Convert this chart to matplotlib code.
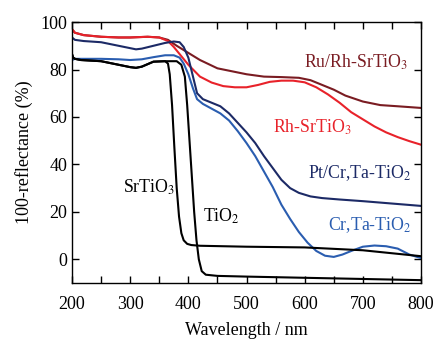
import matplotlib
matplotlib.use('Agg')
import matplotlib.pyplot as plt
from matplotlib.ticker import MultipleLocator

plt.rcParams['font.family'] = ['Liberation Serif', 'DejaVu Serif']
plt.rcParams['mathtext.fontset'] = 'stix'

# Ru/Rh-SrTiO3
ru_x = [200, 205, 220, 250, 280, 300, 330, 350, 365, 380, 400, 420, 450, 480, 500, 530,
        560, 590, 610, 630, 650, 670, 700, 730, 760, 800]
ru_y = [97, 95.5, 94.5, 93.8, 93.5, 93.5, 93.8, 93.5, 92.5, 90, 87, 84, 80.5, 79, 78, 77,
        76.8, 76.5, 75.5, 73.5, 71.5, 69, 66.5, 65, 64.5, 63.8]

# Rh-SrTiO3
rh_x = [200, 205, 220, 250, 280, 300, 330, 350, 365, 375, 390, 400, 420, 440, 460, 480,
        500, 520, 540, 560, 580, 600, 620, 640, 660, 680, 700, 720, 740, 760, 780, 800]
rh_y = [97, 95.5, 94.5, 93.8, 93.5, 93.5, 93.8, 93.5, 92, 89.5, 85, 82, 77, 74.5, 73, 72.5,
        72.5, 73.5, 74.8, 75.3, 75.3, 74.6, 72.5, 69.5, 66, 62, 59, 56, 53.5, 51.5, 49.8, 48.3]

# Pt/Cr,Ta-TiO2
pt_x = [200, 205, 220, 250, 280, 300, 310, 320, 340, 360, 375, 385, 392, 400, 408, 415,
        425, 440, 455, 470, 485, 500, 515, 530, 545, 560, 575, 590, 610, 630, 660, 700,
        750, 800]
pt_y = [93.5, 92.5, 92, 91.5, 90, 89, 88.5, 88.8, 90, 91.2, 91.8, 91.5, 89.5, 85, 77, 70,
        67.5, 66, 64.5, 61.5, 57.5, 53.5, 49, 43.5, 38.5, 33.5, 30, 28, 26.5, 25.8, 25.2, 24.5,
        23.5, 22.5]

# Cr,Ta-TiO2
cr_x = [200, 205, 220, 250, 280, 300, 320, 340, 360, 375, 385, 392, 400, 408, 415, 425,
        440, 455, 470, 485, 500, 515, 530, 545, 560, 575, 590, 605, 620, 635, 650, 665,
        680, 700, 720, 740, 760, 780, 800]
cr_y = [84, 84.5, 84.5, 84.5, 84.3, 84, 84.3, 85.2, 86, 86, 85, 82.5, 78, 72, 67.5, 65.5,
        63.5, 61.5, 58.5, 54, 49, 43.5, 37, 30.5, 23, 17, 11.5, 7, 3.5, 1.5, 1, 2,
        3.5, 5.3, 5.8, 5.5, 4.5, 2, 0.5]

# SrTiO3
st_x = [200, 202, 205, 215, 250, 280, 300, 310, 320, 340, 360, 365, 368, 372, 376, 380,
        384, 388, 392, 398, 405, 420, 500, 600, 700, 800]
st_y = [86.5, 85, 84.5, 84, 83.5, 82, 81, 80.7, 81.2, 83.3, 83.5, 82.5, 78, 65, 47, 30,
        18, 11, 8, 6.5, 6, 5.7, 5.3, 5, 3.8, 1.3]

# TiO2
ti_x = [200, 202, 205, 215, 250, 280, 300, 310, 320, 340, 360, 380, 388, 394, 398, 402,
        406, 410, 414, 418, 423, 430, 450, 500, 600, 700, 800]
ti_y = [86.5, 85, 84.5, 84, 83.5, 82, 81, 80.7, 81.2, 83.3, 83.5, 83.5, 82, 77, 65, 50,
        35, 20, 8, 0, -5, -6.5, -7, -7.3, -7.8, -8.3, -8.8]

fig = plt.figure(figsize=(4.33, 3.42), dpi=100)
ax = fig.add_axes([0.1663, 0.1725, 0.806, 0.763])

lw = 1.5
ax.plot(ru_x, ru_y, color='#7a1c22', lw=lw)
ax.plot(rh_x, rh_y, color='#e8222a', lw=lw)
ax.plot(pt_x, pt_y, color='#1c2a66', lw=lw)
ax.plot(cr_x, cr_y, color='#2a5db0', lw=lw)
ax.plot(st_x, st_y, color='black', lw=lw)
ax.plot(ti_x, ti_y, color='black', lw=lw)

fs = 12.8
ax.text(599, 83, 'Ru/Rh-SrTiO$_3$', color='#7a1c22', fontsize=fs, va='center')
ax.text(545, 55.6, 'Rh-SrTiO$_3$', color='#e8222a', fontsize=fs, va='center')
ax.text(606, 36.5, 'Pt/Cr,Ta-TiO$_2$', color='#1c2a66', fontsize=fs, va='center')
ax.text(640, 14.5, 'Cr,Ta-TiO$_2$', color='#2a5db0', fontsize=fs, va='center')
ax.text(288, 30.4, 'SrTiO$_3$', color='black', fontsize=fs, va='center')
ax.text(425, 18, 'TiO$_2$', color='black', fontsize=fs, va='center')

ax.set_xlim(200, 800)
ax.set_ylim(-10, 100)
ax.xaxis.set_major_locator(MultipleLocator(100))
ax.xaxis.set_minor_locator(MultipleLocator(50))
ax.yaxis.set_major_locator(MultipleLocator(20))
ax.tick_params(which='both', direction='in', top=True, right=True, length=5, width=1,
               labelsize=13)
ax.tick_params(axis='x', which='both', pad=9)
for s in ax.spines.values():
    s.set_linewidth(1)

ax.set_xlabel('Wavelength / nm', fontsize=13, labelpad=7)
ax.set_ylabel('100-reflectance (%)', fontsize=13, labelpad=5)

fig.savefig('out.png', dpi=100)
